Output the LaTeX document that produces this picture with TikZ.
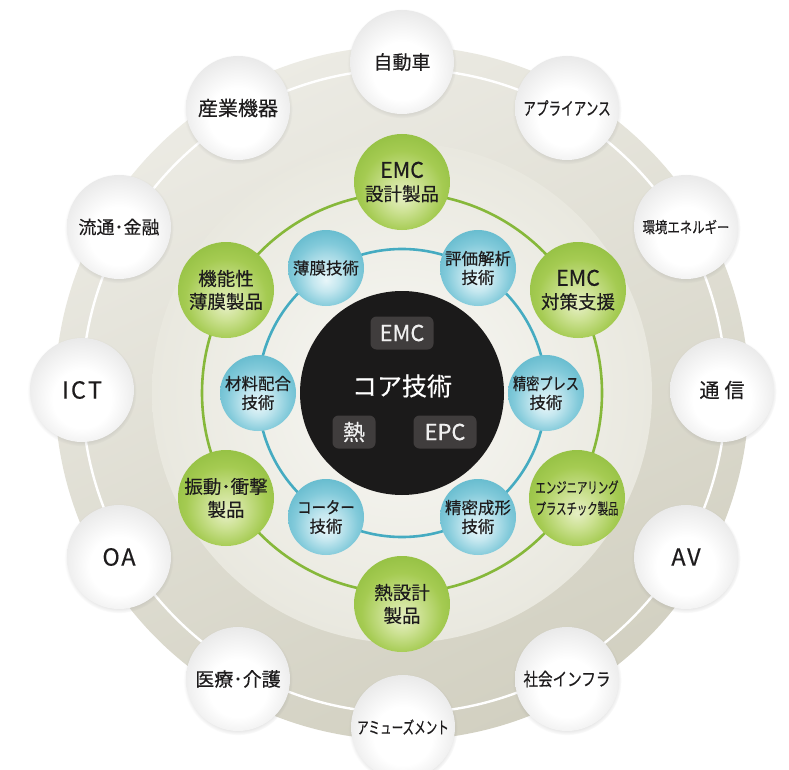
\documentclass[tikz,border=0pt]{standalone}
\usepackage{fontspec}
\usepackage{graphicx}
\setmainfont{Noto Sans CJK JP}[FakeBold=0.35]
\usetikzlibrary{shadows}
\definecolor{txt}{HTML}{1E1C1D}
\definecolor{bgA}{HTML}{ECEBE4}
\definecolor{bgB}{HTML}{D2D0C1}
\definecolor{innA}{HTML}{F8F8F4}
\definecolor{innB}{HTML}{E9E8DF}
\definecolor{gline}{HTML}{86B83A}
\definecolor{bline}{HTML}{45ABC1}
\definecolor{corec}{HTML}{1B1A1A}
\definecolor{boxc}{HTML}{403D3D}
\definecolor{wb1}{HTML}{FFFFFF}
\definecolor{wb2}{HTML}{E9E9E9}
\definecolor{wb3}{HTML}{CFCFCF}
\definecolor{wb4}{HTML}{B6B6B6}
\definecolor{wb5}{HTML}{9E9E9E}
\definecolor{gb1}{HTML}{E6EFC4}
\definecolor{gb2}{HTML}{CDE294}
\definecolor{gb3}{HTML}{A5CB52}
\definecolor{gb4}{HTML}{8ABA3A}
\definecolor{gb5}{HTML}{6A9A26}
\definecolor{bb1}{HTML}{E8F6F9}
\definecolor{bb2}{HTML}{C4E7EF}
\definecolor{bb3}{HTML}{82CADA}
\definecolor{bb4}{HTML}{52B1C6}
\definecolor{bb5}{HTML}{2F92AA}
\pgfdeclareradialshading{whiteball}{\pgfpoint{0bp}{-6bp}}{color(0bp)=(wb1); color(14bp)=(wb1); color(28bp)=(wb2); color(38bp)=(wb3); color(46bp)=(wb4); color(50bp)=(wb5)}
\pgfdeclareradialshading{greenball}{\pgfpoint{0bp}{-8bp}}{color(0bp)=(gb1); color(9bp)=(gb2); color(21bp)=(gb3); color(35bp)=(gb4); color(50bp)=(gb5)}
\pgfdeclareradialshading{blueball}{\pgfpoint{0bp}{-8bp}}{color(0bp)=(bb1); color(9bp)=(bb2); color(21bp)=(bb3); color(35bp)=(bb4); color(50bp)=(bb5)}
\newcommand{\nar}[2]{\scalebox{#1}[1]{#2}}
\tikzset{
  ball/.style={circle, inner sep=0pt, align=center, text=txt},
  wball/.style={ball, minimum size=104pt, shade, shading=whiteball,
    circular drop shadow={shadow scale=1.05, shadow xshift=0pt, shadow yshift=-1.5pt, opacity=0.3}},
  gball/.style={ball, minimum size=96pt, shade, shading=greenball, font=\fontsize{18.5}{23}\selectfont},
  bball/.style={ball, minimum size=76pt, shade, shading=blueball, font=\fontsize{16.5}{19}\selectfont},
  wtxt/.style={font=\fontsize{19}{22}\selectfont},
  ltxt/.style={font=\fontsize{23.5}{26}\selectfont},
  darkbox/.style={rounded corners=6pt, fill=boxc, text=white!94!black, inner sep=0pt, minimum height=33pt, font=\fontsize{22}{24}\selectfont},
  gring/.style={draw=gline, line width=2.6pt},
  bring/.style={draw=bline, line width=2.6pt},
}
\begin{document}
\begin{tikzpicture}[x=1pt,y=-1pt]
\useasboundingbox (0,0) rectangle (789,770);
\fill[white] (0,0) rectangle (789,770);
\coordinate (c) at (402,393);
\coordinate (cw) at (404,391);
% background disks
\shade[top color=bgA, bottom color=bgB, shading angle=25] (c) circle[radius=347];
\draw[white, line width=2.4pt] (cw) circle[radius=322];
\shade[inner color=innA, outer color=innB] (c) circle[radius=250];
% rings
\draw[gring] (c) circle[radius=200];
\draw[bring] (c) circle[radius=144];
% core
\node[circle, fill=corec, minimum size=204pt, inner sep=0pt] (core) at (c) {};
\node[text=white, font=\fontsize{25}{28}\selectfont] (coretxt) at (402,386) {コア技術};
\node[darkbox, minimum width=63pt] (bemc) at (402,333) {EMC};
\node[darkbox, minimum width=43pt] (bnetsu) at (354,432) {熱};
\node[darkbox, minimum width=63pt] (bepc) at (445,432) {EPC};
% blue nodes
\node[bball] (b1) at (326,268) {薄膜技術};
\node[bball] (b2) at (478,268) {評価解析\\技術};
\node[bball] (b3) at (546,393) {\nar{0.8}{精密プレス}\\技術};
\node[bball] (b4) at (478,517) {精密成形\\技術};
\node[bball] (b5) at (326,517) {\nar{0.87}{コーター}\\技術};
\node[bball] (b6) at (258,393) {材料配合\\技術};
% green nodes
\node[gball] (g1) at (402,182) {{\fontsize{21.5}{23}\selectfont EMC}\\設計製品};
\node[gball] (g2) at (578,290) {{\fontsize{21.5}{23}\selectfont EMC}\\対策支援};
\node[gball, font=\fontsize{15.5}{21}\selectfont] (g3) at (577,498) {\nar{0.67}{エンジニアリング}\\\nar{0.67}{プラスチック製品}};
\node[gball] (g4) at (402,604) {熱設計\\製品};
\node[gball] (g5) at (226,498) {振動･衝撃\\製品};
\node[gball] (g6) at (226,290) {機能性\\薄膜製品};
% white nodes
\node[wball, wtxt] (w1) at (402,62) {自動車};
\node[wball, font=\fontsize{18}{20}\selectfont] (w2) at (567,108) {\nar{0.7}{アプライアンス}};
\node[wball, font=\fontsize{15.5}{18}\selectfont] (w3) at (686,227) {\nar{0.8}{環境エネルギー}};
\node[wball, font=\fontsize{20}{22}\selectfont] (w4) at (722,390) {通\hspace{5pt}信};
\node[wball, ltxt] (w5) at (686,557) {A\kern1.5pt V};
\node[wball, font=\fontsize{18}{20}\selectfont] (w6) at (567,679) {\nar{0.81}{社会インフラ}};
\node[wball, font=\fontsize{17}{20}\selectfont] (w7) at (403,727) {\nar{0.68}{アミューズメント}};
\node[wball, wtxt] (w8) at (238,679) {医療･介護};
\node[wball, ltxt] (w9) at (119,557) {O\kern1.5pt A};
\node[wball, ltxt] (w10) at (82,390) {I\kern2pt C\kern2pt T};
\node[wball, font=\fontsize{18}{20}\selectfont] (w11) at (119,227) {流通･金融};
\node[wball, font=\fontsize{20}{22}\selectfont] (w12) at (238,108) {産業機器};
\end{tikzpicture}
\end{document}
